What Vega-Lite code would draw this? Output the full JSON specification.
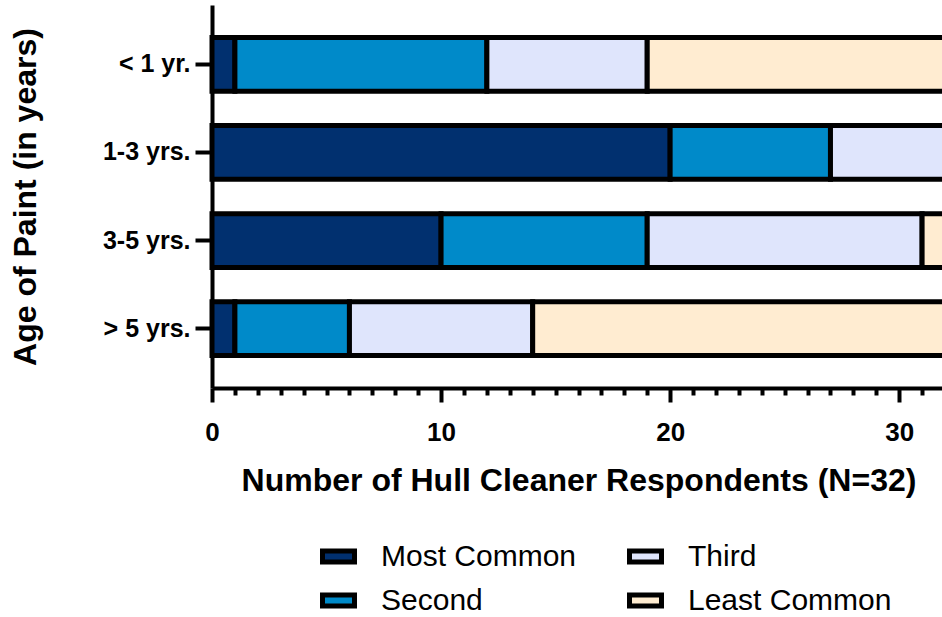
{
  "$schema": "https://vega.github.io/schema/vega-lite/v6.json",
  "width": 733,
  "height": 383,
  "autosize": {"type": "none"},
  "padding": {"left": 212, "top": 5, "right": 0, "bottom": 229},
  "config": {"view": {"stroke": null}, "font": "Liberation Sans"},
  "data": {
    "values": [
      {"age": "< 1 yr.", "rank": "Most Common", "order": 1, "count": 1},
      {"age": "< 1 yr.", "rank": "Second", "order": 2, "count": 11},
      {"age": "< 1 yr.", "rank": "Third", "order": 3, "count": 7},
      {"age": "< 1 yr.", "rank": "Least Common", "order": 4, "count": 13},
      {"age": "1-3 yrs.", "rank": "Most Common", "order": 1, "count": 20},
      {"age": "1-3 yrs.", "rank": "Second", "order": 2, "count": 7},
      {"age": "1-3 yrs.", "rank": "Third", "order": 3, "count": 5},
      {"age": "1-3 yrs.", "rank": "Least Common", "order": 4, "count": 0},
      {"age": "3-5 yrs.", "rank": "Most Common", "order": 1, "count": 10},
      {"age": "3-5 yrs.", "rank": "Second", "order": 2, "count": 9},
      {"age": "3-5 yrs.", "rank": "Third", "order": 3, "count": 12},
      {"age": "3-5 yrs.", "rank": "Least Common", "order": 4, "count": 1},
      {"age": "> 5 yrs.", "rank": "Most Common", "order": 1, "count": 1},
      {"age": "> 5 yrs.", "rank": "Second", "order": 2, "count": 5},
      {"age": "> 5 yrs.", "rank": "Third", "order": 3, "count": 8},
      {"age": "> 5 yrs.", "rank": "Least Common", "order": 4, "count": 18}
    ]
  },
  "mark": {"type": "bar", "stroke": "black", "strokeWidth": 5},
  "encoding": {
    "y": {
      "field": "age",
      "type": "nominal",
      "sort": ["< 1 yr.", "1-3 yrs.", "3-5 yrs.", "> 5 yrs."],
      "scale": {"paddingInner": 0.39, "paddingOuter": 0.37},
      "axis": {
        "title": "Age of Paint (in years)",
        "titleFontSize": 32,
        "titleFontWeight": "bold",
        "titleColor": "black",
        "titlePadding": 60,
        "labelFontSize": 25,
        "labelFontWeight": "bold",
        "labelColor": "black",
        "labelPadding": 5,
        "tickSize": 17,
        "tickWidth": 4,
        "tickColor": "black",
        "domainColor": "black",
        "domainWidth": 4
      }
    },
    "x": {
      "field": "count",
      "type": "quantitative",
      "stack": "zero",
      "scale": {"domain": [0, 32], "nice": false},
      "axis": {
        "values": [0,1,2,3,4,5,6,7,8,9,10,11,12,13,14,15,16,17,18,19,20,21,22,23,24,25,26,27,28,29,30,31,32],
        "labelExpr": "datum.value % 10 === 0 ? datum.label : ''",
        "tickSize": {"condition": {"test": "datum.value % 10 === 0", "value": 14}, "value": 7},
        "tickWidth": 4,
        "tickColor": "black",
        "domainColor": "black",
        "domainWidth": 4,
        "grid": false,
        "labelFontSize": 26,
        "labelFontWeight": "bold",
        "labelColor": "black",
        "labelPadding": 17,
        "labelFlush": false,
        "labelOverlap": false,
        "title": "Number of Hull Cleaner Respondents (N=32)",
        "titleFontSize": 32,
        "titleFontWeight": "bold",
        "titleColor": "black",
        "titlePadding": 20
      }
    },
    "color": {
      "field": "rank",
      "type": "nominal",
      "scale": {
        "domain": ["Most Common", "Second", "Third", "Least Common"],
        "range": ["#01306f", "#008ac9", "#dfe5fc", "#ffecd1"]
      },
      "legend": {
        "orient": "none",
        "legendX": 108,
        "legendY": 533,
        "columns": 2,
        "title": null,
        "symbolType": "M-1,-0.34H1V0.34H-1Z",
        "symbolSize": 1024,
        "symbolStrokeColor": "black",
        "symbolStrokeWidth": 5,
        "symbolOpacity": 1,
        "labelFontSize": 30,
        "labelColor": "black",
        "labelLimit": 400,
        "labelOffset": 24,
        "rowPadding": 10,
        "columnPadding": 42
      }
    },
    "order": {"field": "order", "type": "quantitative"}
  }
}
